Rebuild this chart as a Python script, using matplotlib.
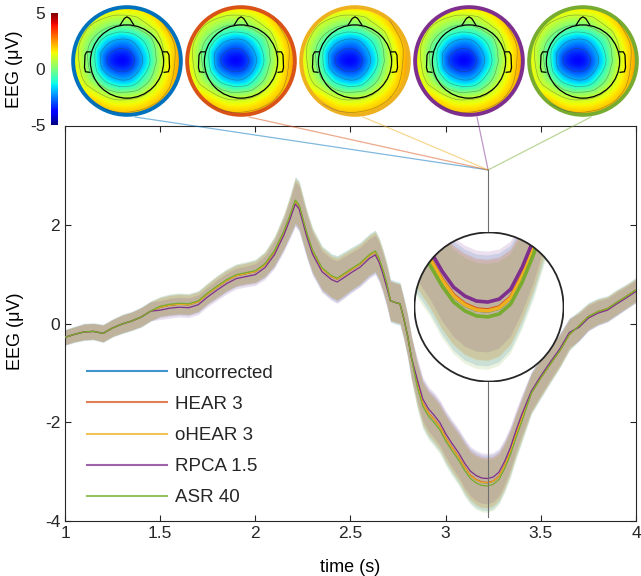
import numpy as np
import matplotlib
matplotlib.use("Agg")
import matplotlib.pyplot as plt
import matplotlib.tri as mtri
from matplotlib.patches import Circle, ConnectionPatch
from matplotlib.lines import Line2D
from matplotlib.cm import ScalarMappable
from matplotlib.colors import Normalize

plt.rcParams.update({
    "font.family": ["Liberation Sans", "DejaVu Sans"],
    "font.size": 12.5,
    "axes.unicode_minus": False,
    "axes.edgecolor": "#262626",
    "xtick.color": "#262626",
    "ytick.color": "#262626",
    "text.color": "#262626",
})

# -----------------------------
# Data
# -----------------------------
methods = ["uncorrected", "HEAR 3", "oHEAR 3", "RPCA 1.5", "ASR 40"]
colors = ["#0072BD", "#D95319", "#EDB120", "#7E2F8E", "#77AC30"]

time_s = [1.00, 1.05, 1.10, 1.15, 1.20, 1.25, 1.30, 1.35, 1.40, 1.45,
          1.50, 1.55, 1.60, 1.65, 1.70, 1.75, 1.80, 1.85, 1.90, 1.95,
          2.00, 2.05, 2.10, 2.15, 2.18, 2.21, 2.23, 2.25, 2.27, 2.30,
          2.35, 2.40, 2.43, 2.47, 2.50, 2.55, 2.60, 2.63, 2.65, 2.67,
          2.69, 2.71, 2.74, 2.76, 2.78, 2.80, 2.82, 2.85, 2.88, 2.91,
          2.94, 2.97, 3.00, 3.03, 3.07, 3.10, 3.13, 3.16, 3.19, 3.22,
          3.25, 3.28, 3.31, 3.34, 3.37, 3.40, 3.45, 3.50, 3.55, 3.60,
          3.65, 3.70, 3.75, 3.80, 3.85, 3.90, 3.95, 4.00]

eeg_uncorrected = [-0.28, -0.22, -0.17, -0.16, -0.20, -0.09, -0.01, 0.05, 0.13, 0.25,
                   0.33, 0.37, 0.39, 0.38, 0.44, 0.60, 0.74, 0.87, 0.97, 1.01,
                   1.05, 1.19, 1.45, 1.85, 2.15, 2.48, 2.38, 2.10, 1.82, 1.47,
                   1.11, 0.95, 0.90, 1.00, 1.08, 1.20, 1.38, 1.45, 1.30, 1.07,
                   0.80, 0.46, 0.42, 0.40, 0.10, -0.25, -0.69, -1.21, -1.62, -1.82,
                   -1.95, -2.10, -2.32, -2.50, -2.72, -2.92, -3.08, -3.17, -3.22, -3.23,
                   -3.20, -3.10, -2.88, -2.60, -2.25, -1.93, -1.41, -1.10, -0.82, -0.55,
                   -0.22, -0.05, 0.14, 0.24, 0.30, 0.43, 0.55, 0.68]

# offsets of each cleaning method from the uncorrected mean (read per segment)
offset_uncorrected = [0.0] * 78
offset_hear = [0.0] * 47 + [0.01] * 19 + [0.0] * 12
offset_ohear = [0.0] * 78
offset_rpca = [0.0] * 10 + [-0.06] * 31 + [0.0] * 6 + [0.09] * 19 + [0.04] * 5 + [-0.03] * 7
offset_asr = [0.0] * 10 + [0.02] * 31 + [0.0] * 6 + [-0.06] * 19 + [0.0] * 12

eeg_spread = [0.15, 0.15, 0.16, 0.16, 0.17, 0.17, 0.18, 0.18, 0.19, 0.19,
              0.19, 0.20, 0.20, 0.20, 0.20, 0.20, 0.21, 0.21, 0.21, 0.21,
              0.22, 0.24, 0.28, 0.33, 0.38, 0.45, 0.46, 0.45, 0.44, 0.43,
              0.42, 0.42, 0.43, 0.42, 0.41, 0.40, 0.40, 0.40, 0.40, 0.40,
              0.40, 0.40, 0.40, 0.40, 0.40, 0.41, 0.42, 0.43, 0.44, 0.45,
              0.46, 0.46, 0.47, 0.48, 0.49, 0.50, 0.50, 0.51, 0.51, 0.51,
              0.50, 0.48, 0.46, 0.44, 0.42, 0.41, 0.39, 0.38, 0.35, 0.32,
              0.30, 0.28, 0.26, 0.25, 0.24, 0.24, 0.23, 0.23]
spread_scale = [1.10, 1.0, 1.0, 1.0, 1.05]

# scalp map at the marked latency (rows top->bottom, cols left->right)
topo_values = np.array([
    [2.0, 1.9, 1.8, 1.8, 2.0, 2.4, 2.8],
    [1.8, 1.0, 0.2, 0.0, 0.8, 1.9, 2.7],
    [1.6, -0.1, -2.0, -2.4, -1.0, 1.1, 2.5],
    [1.6, -0.4, -3.2, -3.6, -1.7, 0.9, 2.5],
    [1.8, 0.3, -1.6, -2.1, -0.6, 1.3, 2.6],
    [2.2, 1.7, 0.9, 0.7, 1.2, 2.0, 2.8],
    [2.5, 2.5, 2.3, 2.2, 2.4, 2.7, 2.9],
])

t_mark = 3.223
y_mark = 3.11

# -----------------------------
# Helpers
# -----------------------------
W, H = 641, 576


def px_axes(fig, x0, y0, w, h):
    """Add axes from a pixel box (x0, y0 = top-left corner)."""
    return fig.add_axes([x0 / W, 1 - (y0 + h) / H, w / W, h / H])


def draw_topo(ax, ring_color):
    g = np.linspace(-1, 1, topo_values.shape[0])
    gx, gy = np.meshgrid(g, g[::-1])
    tri = mtri.Triangulation(gx.ravel(), gy.ravel())
    interp = mtri.CubicTriInterpolator(tri, topo_values.ravel(), kind="geom")
    f = np.linspace(-1, 1, 241)
    fx, fy = np.meshgrid(f, f)
    z = np.asarray(interp(fx, fy))

    disk = Circle((0, 0), 1.0, transform=ax.transData)
    im = ax.imshow(z, extent=(-1, 1, -1, 1), origin="lower", cmap="jet",
                   vmin=-5, vmax=5, interpolation="bilinear")
    im.set_clip_path(disk)
    cs = ax.contour(fx, fy, z, levels=np.arange(-3.0, 3.0, 1.0),
                    colors="#3a3a3a", linewidths=0.45, alpha=0.45,
                    linestyles="solid")
    cs.set_clip_path(disk)

    # head, nose, ears
    ax.add_patch(Circle((0, -0.01), 0.68, fill=False, ec="k", lw=0.9))
    ax.plot([-0.13, -0.05, 0, 0.05, 0.13], [0.665, 0.79, 0.82, 0.79, 0.665],
            color="k", lw=0.9)
    ear_x = [0.68, 0.75, 0.78, 0.79, 0.77, 0.69]
    ear_y = [0.17, 0.17, 0.11, -0.12, -0.20, -0.21]
    ax.plot(ear_x, ear_y, color="k", lw=0.9)
    ax.plot([-v for v in ear_x], ear_y, color="k", lw=0.9)

    ax.add_patch(Circle((0, 0), 1.0, fill=False, ec=ring_color, lw=2.8))
    ax.set_xlim(-1.04, 1.04)
    ax.set_ylim(-1.04, 1.04)
    ax.axis("off")


def draw_curves(ax, lw):
    t = np.array(time_s)
    base = np.array(eeg_uncorrected)
    spread = np.array(eeg_spread)
    offsets = [offset_uncorrected, offset_hear, offset_ohear, offset_rpca, offset_asr]
    arts = []
    for col, off, k in zip(colors, offsets, spread_scale):
        m = base + np.array(off)
        arts.append(ax.fill_between(t, m - k * spread, m + k * spread,
                                    color=col, alpha=0.15, lw=0, zorder=2))
    for col, off in zip(colors, offsets):
        m = base + np.array(off)
        arts += ax.plot(t, m, color=col, lw=lw, zorder=3)
    return arts


# -----------------------------
# Figure
# -----------------------------
fig = plt.figure(figsize=(W / 100, H / 100), dpi=100)

# ---- main time course
ax = px_axes(fig, 65, 126, 571, 395)
draw_curves(ax, lw=0.9)
ax.plot([t_mark, t_mark], [-3.92, y_mark], color="#6e6e6e", lw=0.8, zorder=4)

ax.set_xlim(1, 4)
ax.set_ylim(-4, 4)
ax.set_xticks([1, 1.5, 2, 2.5, 3, 3.5, 4])
ax.set_xticklabels(["1", "1.5", "2", "2.5", "3", "3.5", "4"])
ax.set_yticks([-4, -2, 0, 2])
ax.tick_params(direction="in", top=True, right=True, length=4, width=0.8, labelsize=12.5)
for s in ax.spines.values():
    s.set_linewidth(0.8)
ax.set_xlabel("time (s)", fontsize=13)
ax.set_ylabel("EEG (μV)", fontsize=13)
ax.yaxis.set_label_coords(-0.072, 0.48)
ax.xaxis.set_label_coords(0.5, -0.095)

handles = [Line2D([], [], color=c, lw=1.5, alpha=0.75) for c in colors]
ax.legend(handles, methods, loc="upper left", bbox_to_anchor=(0.038, 0.396),
          frameon=False, borderpad=0, borderaxespad=0, handlelength=4.27,
          handletextpad=0.43, labelspacing=0.75, fontsize=13.5)

# ---- magnifier
axm = px_axes(fig, 489 - 75, 307 - 75, 150, 150)
axm.set_facecolor("none")
lens = Circle((0.5, 0.5), 0.5, transform=axm.transAxes, fc="white", ec="none", zorder=1)
axm.add_patch(lens)
for a in draw_curves(axm, lw=2.6):
    a.set_clip_path(lens)
axm.add_patch(Circle((0.5, 0.5), 0.497, transform=axm.transAxes, fill=False,
                     ec="#262626", lw=1.3, zorder=5))
axm.set_xlim(t_mark - 0.197, t_mark + 0.197)
axm.set_ylim(-3.19 - 0.758, -3.19 + 0.758)
axm.axis("off")

# ---- scalp maps and connectors
topo_cx = [127, 241, 355, 469, 583]
for cx, col in zip(topo_cx, colors):
    axt = px_axes(fig, cx - 56, 5, 112, 112)
    draw_topo(axt, col)
    con = ConnectionPatch(xyA=(t_mark, y_mark), coordsA=ax.transData,
                          xyB=((cx + 8) / W, 1 - 117 / H), coordsB=fig.transFigure,
                          color=col, lw=0.9, alpha=0.5)
    fig.add_artist(con)

# ---- colorbar
cax = px_axes(fig, 51, 13, 7, 112)
cb = fig.colorbar(ScalarMappable(norm=Normalize(-5, 5), cmap="jet"), cax=cax)
cb.set_ticks([-5, 0, 5])
cb.outline.set_visible(False)
cax.yaxis.set_ticks_position("left")
cax.tick_params(length=0, labelsize=12.5, pad=4)
cax.set_ylabel("EEG (μV)", fontsize=13)
cax.yaxis.set_label_position("left")
cax.yaxis.set_label_coords(-4.0, 0.5)

fig.savefig("out.png", dpi=100)
